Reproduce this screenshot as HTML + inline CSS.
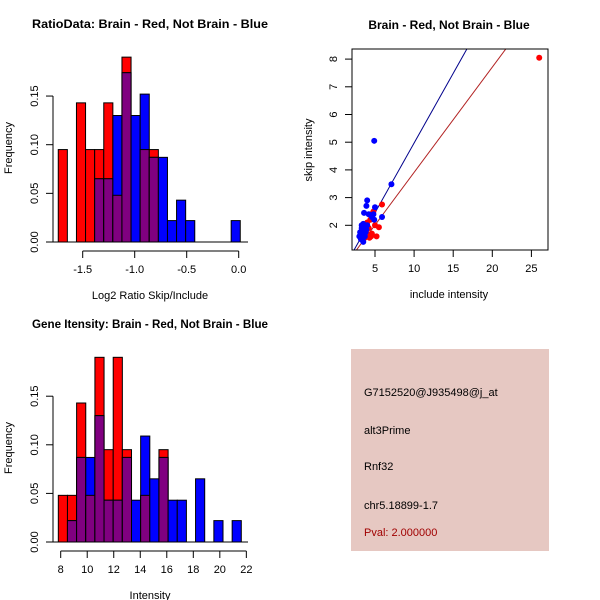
<!DOCTYPE html>
<html><head><meta charset="utf-8"><style>
body{margin:0;background:#fff;}
svg{display:block;font-family:"Liberation Sans",sans-serif;}
</style></head><body>
<svg id="s" width="600" height="600" xmlns="http://www.w3.org/2000/svg">
<rect width="600" height="600" fill="#fff"/>
<g id="h1"></g>
<g id="h2"></g>
<g id="sc"></g>
<g>
<rect x="351" y="349" width="198" height="202" fill="#e6c8c2"/>
<text x="364" y="396" font-size="11">G7152520@J935498@j_at</text>
<text x="364" y="434" font-size="11">alt3Prime</text>
<text x="364" y="470" font-size="11">Rnf32</text>
<text x="364" y="509" font-size="11">chr5.18899-1.7</text>
<text x="364" y="536" font-size="11" fill="#a00000">Pval: 2.000000</text>
</g>
</svg>
<script>
// Ratio histogram data
const ratioBinStart = -1.735, ratioBinWidth = 0.0875;
const ratioRed  = [0.095,0,0.143,0.095,0.095,0.143,0.048,0.190,0,0.095,0.095,0,0,0,0,0,0,0,0,0];
const ratioBlue = [0,0,0,0,0.065,0.065,0.130,0.174,0.130,0.152,0.087,0.087,0.022,0.043,0.022,0,0,0,0,0.022];
const ratioXTicks = [-1.5,-1.0,-0.5,0.0];
const ratioXLabels = ["-1.5","-1.0","-0.5","0.0"];
const freqTicks = [0,0.05,0.10,0.15];
const freqLabels = ["0.00","0.05","0.10","0.15"];
// Intensity histogram data
const intBinStart = 7.82, intBinWidth = 0.69;
const intRed  = [0.048,0.048,0.143,0.048,0.190,0.095,0.190,0.095,0,0.048,0,0.095,0,0,0,0,0,0,0,0];
const intBlue = [0,0.022,0.087,0.087,0.130,0.043,0.043,0.087,0.043,0.109,0.065,0.087,0.043,0.043,0,0.065,0,0.022,0,0.022];
const intXTicks = [8,10,12,14,16,18,20,22];
// Scatter data
const redX = [26,5.9,5.5,5.2,4.3,4.5,4.0,4.6,4.8,4.4,5.0,4.2,3.7,4.5,4.0];
const redY = [8.05,2.75,1.93,1.6,1.55,1.6,1.7,1.7,2.5,2.2,2.0,1.9,1.55,2.4,2.1];
const blueX = [4.9,7.1,4.0,3.9,5.0,5.9,3.6,4.2,4.8,4.6,4.9,3.3,3.5,3.8,3.0,3.4,3.6,3.2,3.5,3.7,3.9,3.3,3.6,4.0,3.4,3.8,3.5,3.1];
const blueY = [5.05,3.48,2.9,2.7,2.65,2.3,2.45,2.4,2.4,2.3,2.2,2.0,2.05,1.95,1.6,1.8,1.7,1.5,1.4,1.6,1.85,1.9,1.9,2.0,1.65,1.75,1.55,1.75];
const blueFit = [-0.06,0.503], redFit = [0.11,0.38];
const scXTicks = [5,10,15,20,25], scYTicks = [2,3,4,5,6,7,8];

const NS="http://www.w3.org/2000/svg";
function mk(p,tag,a,txt){const e=document.createElementNS(NS,tag);for(const k in a)e.setAttribute(k,a[k]);if(txt!==undefined)e.textContent=txt;p.appendChild(e);return e;}

function hist(g,o){
  const sx=v=>o.x0+(v-o.v0)*o.kx, sy=v=>o.y0-v*o.ky;
  mk(g,'line',{x1:50,x2:248,y1:o.y0,y2:o.y0,stroke:'#000'});
  const n=o.red.length;
  for(let i=0;i<n;i++){
    const a=sx(o.bs+i*o.bw), b=sx(o.bs+(i+1)*o.bw);
    const r=o.red[i], bl=o.blue[i], m=Math.min(r,bl);
    if(r>0){const e=mk(g,'rect',{x:a,y:sy(r),width:b-a,height:sy(0)-sy(r),fill:'#ff0000',stroke:'#000','stroke-width':1});
      }
    if(bl>0){const e=mk(g,'rect',{x:a,y:sy(bl),width:b-a,height:sy(0)-sy(bl),fill:'#0000ff',stroke:'#000','stroke-width':1});
      }
    if(m>0){const e=mk(g,'rect',{x:a,y:sy(m),width:b-a,height:sy(0)-sy(m),fill:'#800080',stroke:'#000','stroke-width':1});
      }
  }
  mk(g,'line',{x1:53,x2:53,y1:sy(0),y2:sy(0.15),stroke:'#000'});
  freqTicks.forEach((t,i)=>{mk(g,'line',{x1:46,x2:53,y1:sy(t),y2:sy(t),stroke:'#000'});
    const e=mk(g,'text',{x:0,y:0,'font-size':11,'text-anchor':'middle',transform:`translate(38,${sy(t)}) rotate(-90)`},freqLabels[i]);
    });
  const ay=o.y0+9;
  mk(g,'line',{x1:sx(o.xt[0]),x2:sx(o.xt[o.xt.length-1]),y1:ay,y2:ay,stroke:'#000'});
  o.xt.forEach((t,i)=>{mk(g,'line',{x1:sx(t),x2:sx(t),y1:ay,y2:ay+7,stroke:'#000'});
    const e=mk(g,'text',{x:sx(t),y:ay+22,'font-size':11,'text-anchor':'middle'},o.xl[i]);
    });
  let e=mk(g,'text',{x:150,y:o.y0-214,'font-size':12,'font-weight':'bold','text-anchor':'middle',textLength:236,lengthAdjust:'spacingAndGlyphs'},o.title);
  
  e=mk(g,'text',{x:150,y:o.y0+57,'font-size':11,'text-anchor':'middle'},o.xlab);
  
  e=mk(g,'text',{x:0,y:0,'font-size':11,'text-anchor':'middle',transform:`translate(12,${o.y0-94}) rotate(-90)`},'Frequency');
  
}
hist(document.getElementById('h1'),{x0:82.7,v0:-1.5,kx:104,y0:242,ky:973,bs:ratioBinStart,bw:ratioBinWidth,red:ratioRed,blue:ratioBlue,xt:ratioXTicks,xl:ratioXLabels,title:'RatioData: Brain - Red, Not Brain - Blue',xlab:'Log2 Ratio Skip/Include'});
hist(document.getElementById('h2'),{x0:60.7,v0:8,kx:13.26,y0:542,ky:972,bs:intBinStart,bw:intBinWidth,red:intRed,blue:intBlue,xt:intXTicks,xl:intXTicks.map(String),title:'Gene Itensity: Brain - Red, Not Brain - Blue',xlab:'Intensity'});

(function(){
  const g=document.getElementById('sc');
  const sx=v=>375+(v-5)*7.82, sy=v=>225.3-(v-2)*27.7;
  const L=352,R=548,T=49,B=250;
  mk(g,'defs',{}).innerHTML='<clipPath id="cp"><rect x="352" y="49" width="196" height="201"/></clipPath>';
  const cg=mk(g,'g',{'clip-path':'url(#cp)'});
  [[blueFit,'#00008b','blue-fit-line'],[redFit,'#b22222','red-fit-line']].forEach(([f,c,n])=>{
    const e=mk(cg,'line',{x1:sx(0),y1:sy(f[0]),x2:sx(30),y2:sy(f[0]+f[1]*30),stroke:c,'stroke-width':1});
    });
  redX.forEach((x,i)=>{const e=mk(cg,'circle',{cx:sx(x),cy:sy(redY[i]),r:3,fill:'#ff0000'});
    });
  blueX.forEach((x,i)=>{const e=mk(cg,'circle',{cx:sx(x),cy:sy(blueY[i]),r:3,fill:'#0000ff'});
    });
  mk(g,'rect',{x:L,y:T,width:R-L,height:B-T,fill:'none',stroke:'#000'});
  scXTicks.forEach(t=>{mk(g,'line',{x1:sx(t),x2:sx(t),y1:B,y2:B+7,stroke:'#000'});
    const e=mk(g,'text',{x:sx(t),y:B+22,'font-size':11,'text-anchor':'middle'},String(t));
    });
  scYTicks.forEach(t=>{mk(g,'line',{x1:L-7,x2:L,y1:sy(t),y2:sy(t),stroke:'#000'});
    const e=mk(g,'text',{x:0,y:0,'font-size':11,'text-anchor':'middle',transform:`translate(337,${sy(t)}) rotate(-90)`},String(t));
    });
  let e=mk(g,'text',{x:449,y:29,'font-size':12,'font-weight':'bold','text-anchor':'middle'},'Brain - Red, Not Brain - Blue');
  
  e=mk(g,'text',{x:449,y:298,'font-size':11,'text-anchor':'middle'},'include intensity');
  
  e=mk(g,'text',{x:0,y:0,'font-size':11,'text-anchor':'middle',transform:'translate(312,150) rotate(-90)'},'skip intensity');
  
})();
</script>
</body></html>
